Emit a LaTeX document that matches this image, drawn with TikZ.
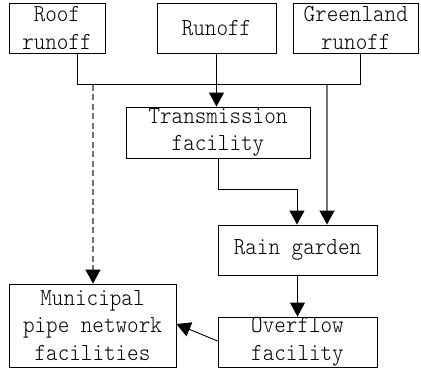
\documentclass[tikz,border=0pt]{standalone}
\usepackage{fontspec}
\newfontfamily\boxfont{lmmonolt10-regular.otf}[FakeStretch=0.9]
\usetikzlibrary{arrows.meta}
\begin{document}
\begin{tikzpicture}[x=1pt,y=-1pt,
  box/.style={draw=black,line width=0.9pt,inner sep=0pt,align=center,
    font=\boxfont\fontsize{24.5}{27.5}\selectfont},
  flow/.style={draw=black,line width=0.9pt},
  grayflow/.style={draw=black!55,line width=1.3pt},
  tip/.style={-{Triangle[width=15pt,length=14pt,color=black,fill=black]}}]
\useasboundingbox (0,0) rectangle (421,368);
\node[box,minimum width=96pt,minimum height=50pt] (roof) at (57,28) {Roof\\runoff};
\node[box,minimum width=119pt,minimum height=50pt] (runoff) at (216.5,28) {Runoff};
\node[box,minimum width=125pt,minimum height=50pt] (green) at (355.75,28) {Greenland\\runoff};
\node[box,minimum width=184pt,minimum height=51pt] (trans) at (218,132.5) {Transmission\\facility};
\node[box,minimum width=159pt,minimum height=50pt] (rain) at (297.5,250) {Rain garden};
\node[box,minimum width=167pt,minimum height=83pt] (muni) at (92.5,325.5) {Municipal\\pipe network\\facilities};
\node[box,minimum width=159pt,minimum height=50pt] (over) at (297.5,342) {Overflow\\facility};
% junction coordinates
\coordinate (jl) at (77,84.5);
\coordinate (jr) at (360,84.5);
\coordinate (jd) at (93,84.5);
\coordinate (jg) at (327,84.5);
\coordinate (tb) at (218,189);
\coordinate (rt) at (297,189);
% connectors
\draw[flow] (roof.south -| jl) -- (jl) -- (jr) -- (green.south -| jr);
\draw[flow,tip] (runoff.south) -- (trans.north -| runoff.south);
\draw[grayflow,dashed,dash pattern=on 6pt off 3.5pt,tip] (jd) -- (muni.north -| jd);
\draw[grayflow,tip] (jg) -- (rain.north -| jg);
\draw[flow,tip] (trans.south -| tb) -- (tb) -- (rt) -- (rain.north -| rt);
\draw[flow,tip] (rain.south) -- (over.north);
\draw[flow,tip] ([yshift=1pt]over.west) -- ([yshift=1.5pt]muni.east);
\end{tikzpicture}
\end{document}
